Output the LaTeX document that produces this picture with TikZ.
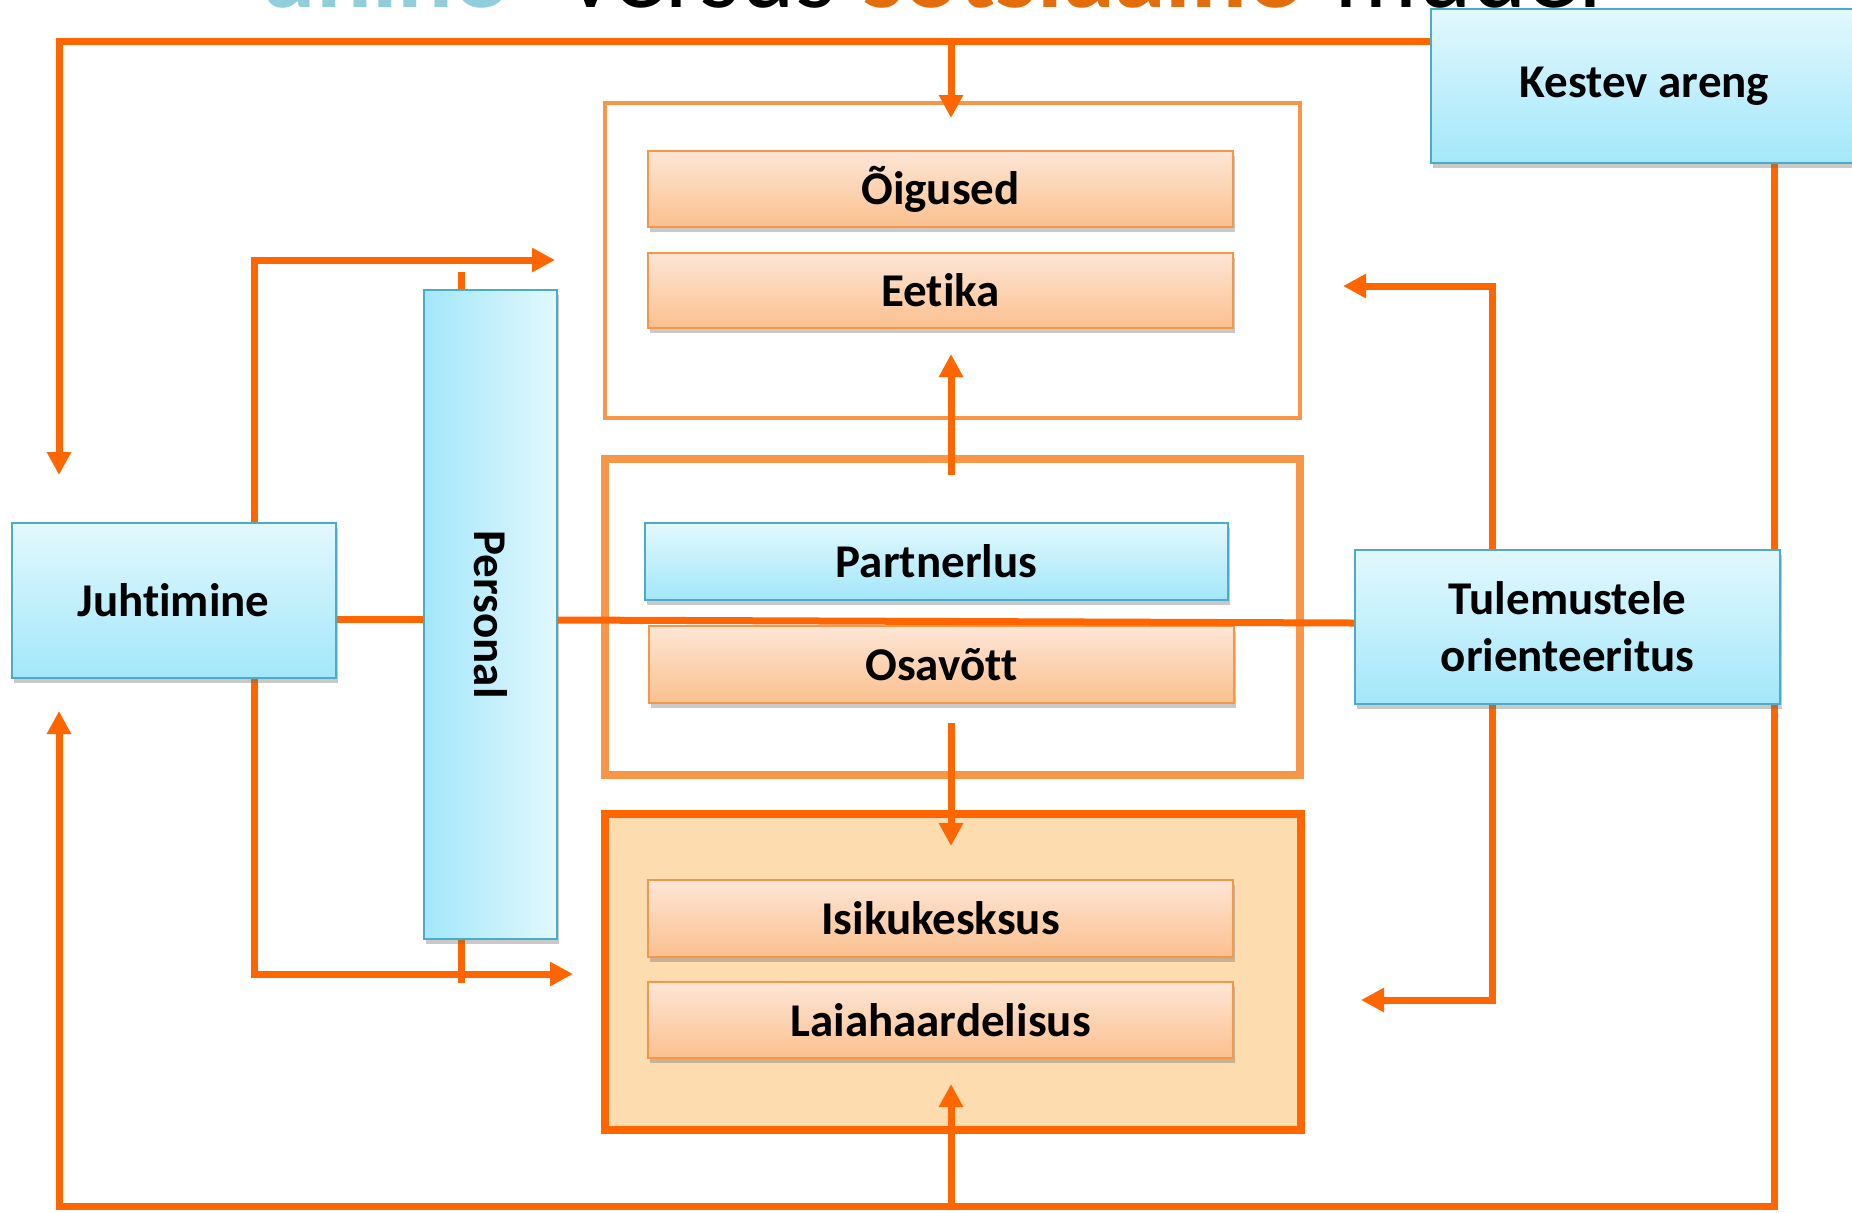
\documentclass[tikz,border=0pt]{standalone}
\usepackage{fontspec}
\setmainfont{Carlito}[Ligatures=NoCommon]
\usetikzlibrary{arrows.meta,shadows,calc}
\definecolor{orng}{HTML}{FF6600}
\definecolor{lorng}{HTML}{F79646}
\definecolor{peach}{HTML}{FDDCAF}
\definecolor{btop}{HTML}{E2F8FD}
\definecolor{bbot}{HTML}{A3E7FA}
\definecolor{bbord}{HTML}{4BACC6}
\definecolor{otop}{HTML}{FDE6D6}
\definecolor{obot}{HTML}{FBC08E}
\definecolor{tblue}{HTML}{92CDDC}
\definecolor{tor}{HTML}{E46C0A}
\pgfdeclarelayer{back}
\pgfdeclarelayer{links}
\pgfdeclarelayer{front}
\pgfsetlayers{back,links,main,front}
\begin{document}
\begin{tikzpicture}[x=0.5pt,y=-0.5pt,
  conn/.style={draw=orng, line width=3.5pt},
  arr/.style={conn, -{Triangle[length=11.5pt,width=11.5pt]}},
  txt/.style={font=\bfseries\fontsize{23.5}{28.5}\selectfont, align=center, text=black},
  shad/.style={drop shadow={shadow xshift=1pt,shadow yshift=-2.5pt,opacity=0.35,fill=black!60}},
  bluebox/.style={txt, draw=bbord, line width=1pt, top color=btop, bottom color=bbot, shad, inner sep=0pt},
  orbox/.style={txt, draw=lorng, line width=1pt, top color=otop, bottom color=obot, shad, inner sep=0pt},
  outer/.style={draw, inner sep=0pt},
  ttl/.style={font=\fontsize{52}{60}\selectfont, anchor=base west, inner sep=0pt},
]
\clip (0,0) rectangle (1852,1212);
\begin{pgfonlayer}{back}
\fill[white] (0,0) rectangle (1852,1212);
\end{pgfonlayer}

% partial title (cut off at the top edge, as in the reference)
\node[ttl, font=\bfseries\fontsize{52}{60}\selectfont, text=tblue] (t1) at (260,7) {ühine};
\node[ttl, text=black] (t2) at (567,7) {versus};
\node[ttl, font=\bfseries\fontsize{52}{60}\selectfont, text=tor] (t3) at (862,7) {sotsiaalne};
\node[ttl, text=black] (t4) at (1334,7) {mudel};

% outer frames
\begin{pgfonlayer}{back}
\node[outer, draw=lorng, line width=2pt, fill=white, minimum width=347.5pt, minimum height=157.5pt] (topbox) at (952.5,260.5) {};
\node[outer, draw=lorng, line width=4pt, fill=white, minimum width=347.5pt, minimum height=158pt] (midbox) at (952.5,617) {};
\node[outer, draw=orng, line width=4pt, fill=peach, minimum width=348pt, minimum height=158pt] (botbox) at (953,972) {};
\end{pgfonlayer}

% inner boxes
\node[orbox, minimum width=292.5pt, minimum height=38pt] (oig) at (940.5,189) {Õigused};
\node[orbox, minimum width=292.5pt, minimum height=37.5pt] (eet) at (940.5,290.5) {Eetika};
\node[bluebox, minimum width=291.5pt, minimum height=38.5pt] (part) at (936.5,561.5) {Partnerlus};
\node[orbox, minimum width=292.5pt, minimum height=38.5pt] (osa) at (941.5,664.5) {Osavõtt};
\node[orbox, minimum width=292.5pt, minimum height=38.5pt] (isik) at (940.5,918.5) {Isikukesksus};
\node[orbox, minimum width=292.5pt, minimum height=38pt] (laia) at (940.5,1020) {Laiahaardelisus};

% side boxes
\node[bluebox, minimum width=213.5pt, minimum height=77pt] (kest) at (1644.5,86) {Kestev areng};
\node[bluebox, minimum width=162pt, minimum height=77.5pt] (juht) at (173.5,600.5) {Juhtimine};
\node[txt, draw=bbord, line width=1pt, left color=bbot, right color=btop, shad, inner sep=0pt, minimum width=66.5pt, minimum height=324.5pt] (pers) at (490.5,614.5) {};
\node[txt, rotate=-90] (perstxt) at (pers.center) {Personal};
\node[bluebox, minimum width=212.5pt, minimum height=77pt] (tul) at (1567.5,627) {Tulemustele\\orienteeritus};

% coordinates
\coordinate (tl) at (59,41);
\coordinate (tlend) at (59,475);
\coordinate (tdown) at (951,118);
\coordinate (rv) at (1774,0);
\coordinate (bl) at (59,1206);
\coordinate (blend) at (59,711);
\coordinate (bup) at (951,1084);
\coordinate (ua0) at (951,475);
\coordinate (ua1) at (951,354);
\coordinate (da0) at (951,723);
\coordinate (da1) at (951,846);
\coordinate (lb) at (254,0);
\coordinate (lu) at (555,260);
\coordinate (ld) at (573,974);
\coordinate (st1) at (461,272);
\coordinate (st2) at (461,983);
\coordinate (rb) at (1492,0);
\coordinate (ru) at (1343,286);
\coordinate (rd) at (1361,1000);
\coordinate (h1) at (0,619);
\coordinate (h2) at (0,620);
\coordinate (h3) at (0,623);

\begin{pgfonlayer}{links}
\draw[arr] (kest.west |- tl) -| (tlend);
\draw[arr] (tdown |- tl) -- (tdown);
\draw[arr] (kest.south -| rv) |- (bl) -- (blend);
\draw[arr] (bup |- bl) -- (bup);
\draw[arr] (ua0) -- (ua1);
\draw[arr] (da0) -- (da1);
\draw[arr] (juht.north -| lb) |- (lu);
\draw[arr] (juht.south -| lb) |- (ld);
\draw[conn] (st1) -- (st1 |- pers.north);
\draw[conn] (st2 |- pers.south) -- (st2);
\draw[arr] (tul.north -| rb) |- (ru);
\draw[arr] (tul.south -| rb) |- (rd);
\end{pgfonlayer}

\begin{pgfonlayer}{front}
\draw[conn] (juht.east |- h1) -- (pers.west |- h1);
\draw[conn] (pers.east |- h2) -- (tul.west |- h3);
\end{pgfonlayer}
\end{tikzpicture}
\end{document}
